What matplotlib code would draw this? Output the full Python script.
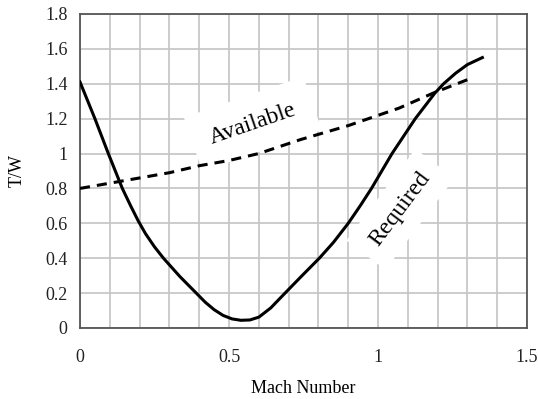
import matplotlib.pyplot as plt
from matplotlib.ticker import MultipleLocator, FuncFormatter

plt.rcParams['font.family'] = ['Liberation Serif', 'DejaVu Serif']

# --- data ---
mach_req = [0.0, 0.05, 0.095, 0.142, 0.17, 0.195, 0.22, 0.25, 0.28, 0.335, 0.39, 0.42,
            0.45, 0.48, 0.51, 0.54, 0.57, 0.60, 0.64, 0.688, 0.745, 0.803, 0.85, 0.90,
            0.94, 0.978, 1.047, 1.125, 1.19, 1.22, 1.26, 1.30, 1.35]
tw_req = [1.41, 1.20, 1.00, 0.80, 0.70, 0.615, 0.54, 0.465, 0.40, 0.295, 0.20, 0.148,
          0.105, 0.072, 0.052, 0.044, 0.046, 0.062, 0.115, 0.20, 0.30, 0.40, 0.49, 0.60,
          0.70, 0.80, 1.00, 1.20, 1.345, 1.40, 1.46, 1.51, 1.55]

mach_av = [0.0, 0.1, 0.2, 0.3, 0.4, 0.5, 0.6, 0.74, 0.9, 1.07, 1.19, 1.31]
tw_av = [0.80, 0.83, 0.86, 0.89, 0.93, 0.96, 1.00, 1.08, 1.16, 1.26, 1.35, 1.43]

fig = plt.figure(figsize=(5.38, 3.99), dpi=100)
ax = fig.add_axes([0.1487, 0.178, 0.831, 0.787])

ax.plot(mach_req, tw_req, color="black", lw=2.2, zorder=3, solid_joinstyle="round")
ax.plot(mach_av, tw_av, color="black", lw=2.2, dashes=(3.3, 2.3), zorder=3)

ax.set_xlim(0, 1.5)
ax.set_ylim(0, 1.8)
ax.xaxis.set_major_locator(MultipleLocator(0.5))
ax.xaxis.set_minor_locator(MultipleLocator(0.1))
ax.yaxis.set_major_locator(MultipleLocator(0.2))
fmt = FuncFormatter(lambda v, p: "{:g}".format(round(v, 2)))
ax.xaxis.set_major_formatter(fmt)
ax.yaxis.set_major_formatter(fmt)

ax.grid(True, which="both", color="#c4c4c4", lw=1.2, zorder=0)
ax.set_axisbelow(True)
ax.tick_params(which="both", length=0, labelsize=13, colors="#222222")
ax.tick_params(axis="x", pad=15)
ax.tick_params(axis="y", pad=9)
for s in ax.spines.values():
    s.set_color("#555555")
    s.set_linewidth(1.3)

ax.set_xlabel("Mach Number", fontsize=13, labelpad=10)
ax.set_ylabel("T/W", fontsize=13, labelpad=14)

ax.text(0.58, 1.17, "Available", fontsize=17, rotation=19, ha="center", va="center",
        bbox=dict(facecolor="white", edgecolor="none", pad=13), zorder=2)
ax.text(1.075, 0.68, "Required", fontsize=17, rotation=53, ha="center", va="center",
        bbox=dict(facecolor="white", edgecolor="none", pad=10), zorder=2)

fig.savefig("out.png", dpi=100)
